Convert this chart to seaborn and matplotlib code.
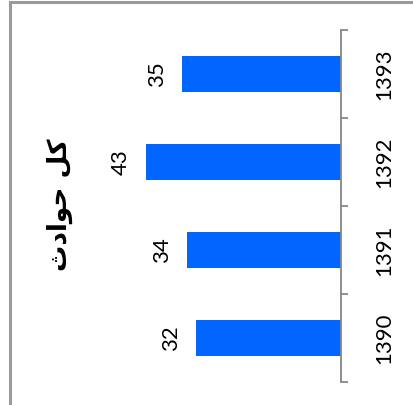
import matplotlib
matplotlib.use("Agg")
import matplotlib.pyplot as plt
import seaborn as sns
import pandas as pd
from matplotlib.lines import Line2D
from matplotlib.ticker import FixedLocator

# ---- data ----
years = ["1390", "1391", "1392", "1393"]
values = [32, 34, 43, 35]
title_text = "کل حوادث"

# minimal Arabic-script shaping (matplotlib has no complex text layout)
FORMS = {  # isolated, final, initial, medial
    "ک": ("\uFB8E", "\uFB8F", "\uFB90", "\uFB91"),
    "ل": ("\uFEDD", "\uFEDE", "\uFEDF", "\uFEE0"),
    "ح": ("\uFEA1", "\uFEA2", "\uFEA3", "\uFEA4"),
    "ث": ("\uFE99", "\uFE9A", "\uFE9B", "\uFE9C"),
    "و": ("\uFEED", "\uFEEE", None, None),
    "ا": ("\uFE8D", "\uFE8E", None, None),
    "د": ("\uFEA9", "\uFEAA", None, None),
}


def shape(text):
    out = []
    n = len(text)
    for i, ch in enumerate(text):
        if ch not in FORMS:
            out.append(ch)
            continue
        prev = text[i - 1] if i > 0 else ""
        nxt = text[i + 1] if i < n - 1 else ""
        jp = prev in FORMS and FORMS[prev][2] is not None
        jn = FORMS[ch][2] is not None and nxt in FORMS
        f = FORMS[ch]
        if jp and jn:
            out.append(f[3])
        elif jp:
            out.append(f[1])
        elif jn:
            out.append(f[2])
        else:
            out.append(f[0])
    return "".join(out)[::-1]


df = pd.DataFrame({"year": years, "value": values})
order = years[::-1]

W, H = 414, 405
fig = plt.figure(figsize=(W / 100, H / 100), dpi=100)
fig.patch.set_facecolor("white")

ax_left, ax_right = 41, 341
ax_top, ax_bot = 30, 382
ax = fig.add_axes([ax_left / W, 1 - ax_bot / H, (ax_right - ax_left) / W, (ax_bot - ax_top) / H])

sns.barplot(data=df, x="value", y="year", order=order, orient="h",
            color="#0066FF", saturation=1, width=0.4, ax=ax)

xmax = (ax_right - ax_left) / 4.53
ax.set_xlim(xmax, 0)
ax.set_ylim(3.5, -0.5)

for s in ["left", "top", "bottom"]:
    ax.spines[s].set_visible(False)
ax.spines["right"].set_color("#868686")
ax.spines["right"].set_linewidth(1.3)
ax.set_xticks([])
ax.set_xlabel("")
ax.set_ylabel("")

ax.yaxis.tick_right()
ax.yaxis.set_major_locator(FixedLocator([-0.5, 0.5, 1.5, 2.5, 3.5]))
ax.yaxis.set_minor_locator(FixedLocator([0, 1, 2, 3]))
ax.yaxis.set_major_formatter(plt.NullFormatter())
ax.set_yticklabels(order, minor=True)
ax.tick_params(axis="y", which="major", right=True, length=5, width=1.3, color="#868686")
ax.tick_params(axis="y", which="minor", right=True, length=0, pad=31,
               labelsize=16, labelrotation=90)
for lab in ax.get_yticklabels(minor=True):
    lab.set_fontfamily("Lato")
    lab.set_va("center")
    lab.set_ha("center")

for cont in ax.containers:
    for bar, v in zip(cont, [df.set_index("year").loc[y, "value"] for y in order]):
        ax.annotate(str(v), xy=(bar.get_width(), bar.get_y() + bar.get_height() / 2),
                    xytext=(-11, 0), textcoords="offset points",
                    ha="right", va="center", rotation=90,
                    fontsize=16, fontfamily="Lato", color="black")

fig.text(60 / W, 1 - 205 / H, shape(title_text), rotation=90, ha="center", va="center",
         fontsize=19, fontweight="bold", fontfamily="DejaVu Sans", color="black")

# outer frame lines
fig.add_artist(Line2D([10 / W, 10 / W], [0, 1 - 2 / H], transform=fig.transFigure,
                      color="#9a9a9a", linewidth=2.2))
fig.add_artist(Line2D([10 / W, 1], [1 - 2 / H, 1 - 2 / H], transform=fig.transFigure,
                      color="#9a9a9a", linewidth=2.2))

fig.savefig("out.png", dpi=100)
